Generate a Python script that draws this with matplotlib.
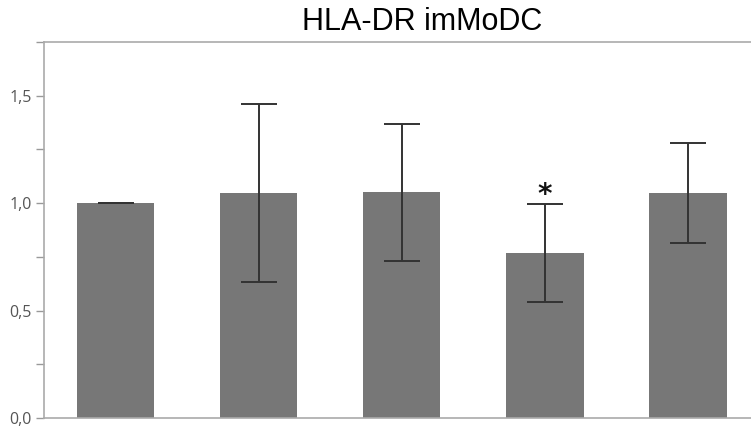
import matplotlib
matplotlib.use("Agg")
import matplotlib.pyplot as plt
from matplotlib.ticker import MultipleLocator, FuncFormatter

categories = ["1", "2", "3", "4", "5"]
means = [1.0, 1.047, 1.05, 0.767, 1.047]
sds = [0.0, 0.415, 0.32, 0.228, 0.232]
title = "HLA-DR imMoDC"
sig_index = 3

W, H = 751, 430
fig = plt.figure(figsize=(W / 100, H / 100), dpi=100)
ax = fig.add_axes([44 / W, 12 / H, (751 - 44) / W, 376 / H])

x = list(range(len(categories)))
ax.bar(x, means, width=0.54, color="#777777", zorder=2)
ax.errorbar(x, means, yerr=sds, fmt="none", ecolor="#333333", elinewidth=1.4,
            capsize=13, capthick=1.4, zorder=3)
ax.text(sig_index, means[sig_index] + sds[sig_index] - 0.02, "*", ha="center",
        va="bottom", fontsize=20, fontweight="bold", color="#111111")

ax.set_xlim(-0.5, 4.44)
ax.set_ylim(0, 1.75)
ax.set_xticks([])
ax.yaxis.set_major_locator(MultipleLocator(0.5))
ax.yaxis.set_minor_locator(MultipleLocator(0.25))
ax.yaxis.set_major_formatter(FuncFormatter(lambda v, p: f"{v:.1f}".replace(".", ",")))
ax.tick_params(axis="y", which="both", direction="out", length=6, color="#999999",
               labelsize=11.5, labelcolor="#555555", width=1, pad=3)
for lab in ax.get_yticklabels():
    lab.set_fontfamily("Open Sans")
for s in ["left", "top", "bottom"]:
    ax.spines[s].set_color("#aaaaaa")
    ax.spines[s].set_linewidth(1.2)
ax.spines["right"].set_visible(False)

fig.text(422 / W, 1 - 22 / H, title, ha="center", va="center", fontsize=22,
         family="Liberation Sans", color="#000000")

fig.savefig("out.png", dpi=100)
